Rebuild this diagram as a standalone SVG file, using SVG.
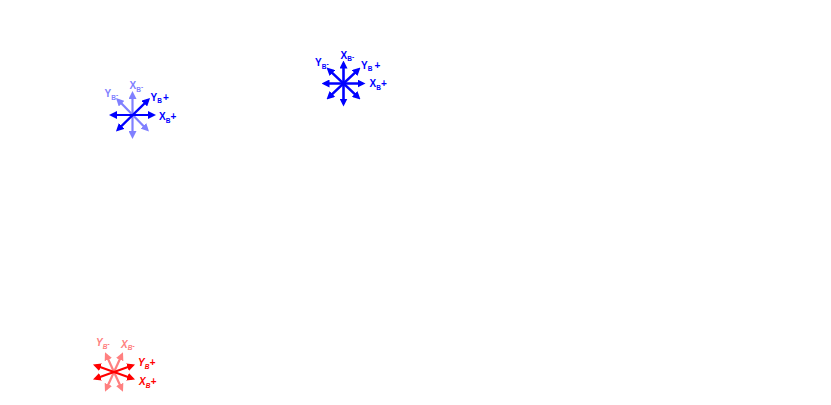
<svg xmlns="http://www.w3.org/2000/svg" width="831" height="405" viewBox="0 0 831 405">
  <style>
    .lbl { font-family: "Liberation Sans", Arial, sans-serif; font-weight: bold; font-size: 10px; }
    .it { font-style: italic; }
    .sub { font-size: 6.5px; }
    .ax { fill: none; stroke-width: 2.2; }
    .thick { stroke-width: 2.6; }
    .db { stroke: #0000ff; marker-start: url(#hDB); marker-end: url(#hDB); }
    .lb { stroke: #8080ff; marker-start: url(#hLB); marker-end: url(#hLB); }
    .dr { stroke: #ff0000; marker-start: url(#hDR); marker-end: url(#hDR); }
    .lr { stroke: #ff8080; marker-start: url(#hLR); marker-end: url(#hLR); }
    .tdb { fill: #0000ff; }
    .tlb { fill: #8080ff; }
    .tdr { fill: #ff0000; }
    .tlr { fill: #ff8080; }
  </style>
  <defs>
    <marker id="hDB" markerUnits="userSpaceOnUse" markerWidth="8" markerHeight="8" refX="5" refY="4" orient="auto-start-reverse"><path d="M0,0 L8,4 L0,8 Z" fill="#0000ff"/></marker>
    <marker id="hLB" markerUnits="userSpaceOnUse" markerWidth="8" markerHeight="8" refX="5" refY="4" orient="auto-start-reverse"><path d="M0,0 L8,4 L0,8 Z" fill="#8080ff"/></marker>
    <marker id="hDR" markerUnits="userSpaceOnUse" markerWidth="8" markerHeight="8" refX="5" refY="4" orient="auto-start-reverse"><path d="M0,0 L8,4 L0,8 Z" fill="#ff0000"/></marker>
    <marker id="hLR" markerUnits="userSpaceOnUse" markerWidth="8" markerHeight="8" refX="5" refY="4" orient="auto-start-reverse"><path d="M0,0 L8,4 L0,8 Z" fill="#ff8080"/></marker>
  </defs>
  <rect width="831" height="405" fill="#ffffff"/>

  <g id="axes-1">
    <g class="connectors">
      <line class="ax lb" x1="132.5" y1="94" x2="132.5" y2="136"/>
      <line class="ax lb" x1="118.1" y1="100.1" x2="146.9" y2="129.4"/>
      <line class="ax db" x1="112" y1="115" x2="153" y2="115"/>
      <line class="ax db" x1="118.1" y1="129.4" x2="147.9" y2="100.1"/>
    </g>
    <text class="lbl tlb" x="129.5" y="89">X<tspan class="sub" dy="2.5">B</tspan><tspan class="sub" dy="-2.5">-</tspan></text>
    <text class="lbl tlb" x="104.5" y="97">Y<tspan class="sub" dy="2.5">B</tspan><tspan class="sub" dy="-2.5">-</tspan></text>
    <text class="lbl tdb" x="150.5" y="100.5">Y<tspan class="sub" dy="2.5">B</tspan><tspan dx="1" dy="-2.5">+</tspan></text>
    <text class="lbl tdb" x="159" y="120">X<tspan class="sub" dy="2.5">B</tspan><tspan dy="-2.5">+</tspan></text>
  </g>

  <g id="axes-2">
    <g class="connectors">
      <line class="ax thick db" x1="324.5" y1="83.5" x2="362.5" y2="83.5"/>
      <line class="ax thick db" x1="343.5" y1="63.5" x2="343.5" y2="103.5"/>
      <line class="ax thick db" x1="328.7" y1="69.6" x2="358.3" y2="97.4"/>
      <line class="ax thick db" x1="328.7" y1="97.4" x2="358.3" y2="69.6"/>
    </g>
    <text class="lbl tdb" x="340.5" y="58.5">X<tspan class="sub" dy="2.5">B</tspan><tspan class="sub" dy="-2.5">-</tspan></text>
    <text class="lbl tdb" x="315" y="66.3">Y<tspan class="sub" dy="2.5">B</tspan><tspan class="sub" dy="-2.5">-</tspan></text>
    <text class="lbl tdb" x="361" y="68.5">Y<tspan class="sub" dy="2.5">B</tspan><tspan dx="2" dy="-2.5">+</tspan></text>
    <text class="lbl tdb" x="369.5" y="87.3">X<tspan class="sub" dy="2.5">B</tspan><tspan dy="-2.5">+</tspan></text>
  </g>

  <g id="axes-3">
    <g class="connectors">
      <line class="ax lr" x1="106.25" y1="355" x2="121.75" y2="389"/>
      <line class="ax lr" x1="121.75" y1="355" x2="106.25" y2="389"/>
      <line class="ax dr" x1="95.8" y1="365.5" x2="132.2" y2="378.5"/>
      <line class="ax dr" x1="95.8" y1="378.5" x2="132.2" y2="365.5"/>
    </g>
    <text class="lbl it tlr" x="96" y="346">Y<tspan class="sub" dy="2.5">B</tspan><tspan class="sub" dy="-2.5">-</tspan></text>
    <text class="lbl it tlr" x="121" y="347.5">X<tspan class="sub" dy="2.5">B</tspan><tspan class="sub" dy="-2.5">-</tspan></text>
    <text class="lbl it tdr" x="138" y="366">Y<tspan class="sub" dy="2.5">B</tspan><tspan dy="-2.5">+</tspan></text>
    <text class="lbl it tdr" x="139" y="385">X<tspan class="sub" dy="2.5">B</tspan><tspan dy="-2.5">+</tspan></text>
  </g>
</svg>
